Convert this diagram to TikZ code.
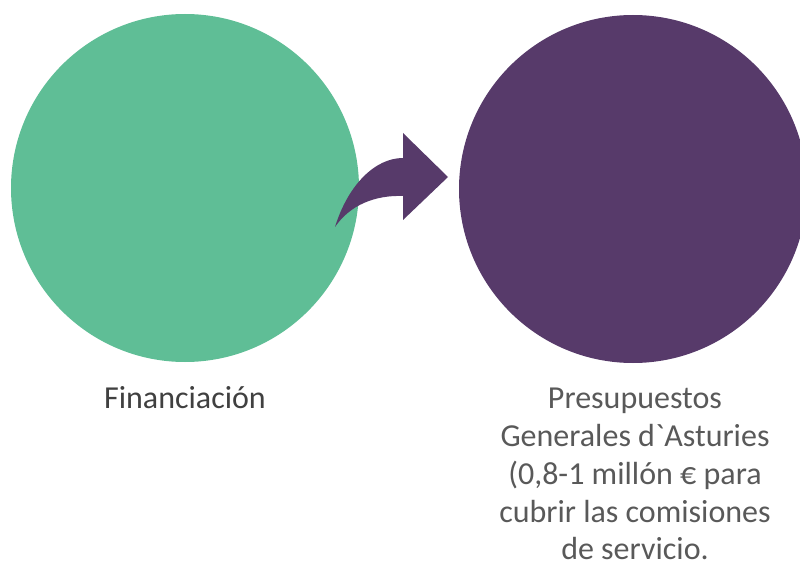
\documentclass[tikz,border=0pt]{standalone}
\usepackage{fontspec}
\setmainfont{Carlito}[Ligatures=TeXOff]
\definecolor{cgreen}{HTML}{5FBE96}
\definecolor{cpurple}{HTML}{573A6A}
\definecolor{tdark}{HTML}{404040}
\definecolor{tlight}{HTML}{595959}
\tikzset{
  disc/.style={circle, inner sep=0pt, minimum size=348*0.75pt, draw=none},
  lbl/.style={inner sep=0pt, font=\fontsize{24}{28.3}\selectfont, align=center},
}
\begin{document}
\begin{tikzpicture}[x=0.75pt,y=-0.75pt]
\useasboundingbox (0,0) rectangle (800,563);
\clip (0,0) rectangle (800,563);
\node[disc, fill=cgreen] (fin) at (185,188) {};
\node[disc, fill=cpurple] (pga) at (633,189) {};
\fill[cpurple] (335,227) .. controls (348,185) and (375,158) .. (403,158)
  -- (403,133) -- (448,177) -- (403,220) -- (403,196)
  .. controls (375,195) and (350,205) .. (335,227) -- cycle;
\node[lbl, text=tdark, anchor=base] (finl) at (185,408) {Financiación};
\node[lbl, text=tlight, anchor=north] (pgal) at (635,388) {Presupuestos\\Generales d`Asturies\\(0,8-1 millón € para\\cubrir las comisiones\\de servicio.};
\end{tikzpicture}
\end{document}
